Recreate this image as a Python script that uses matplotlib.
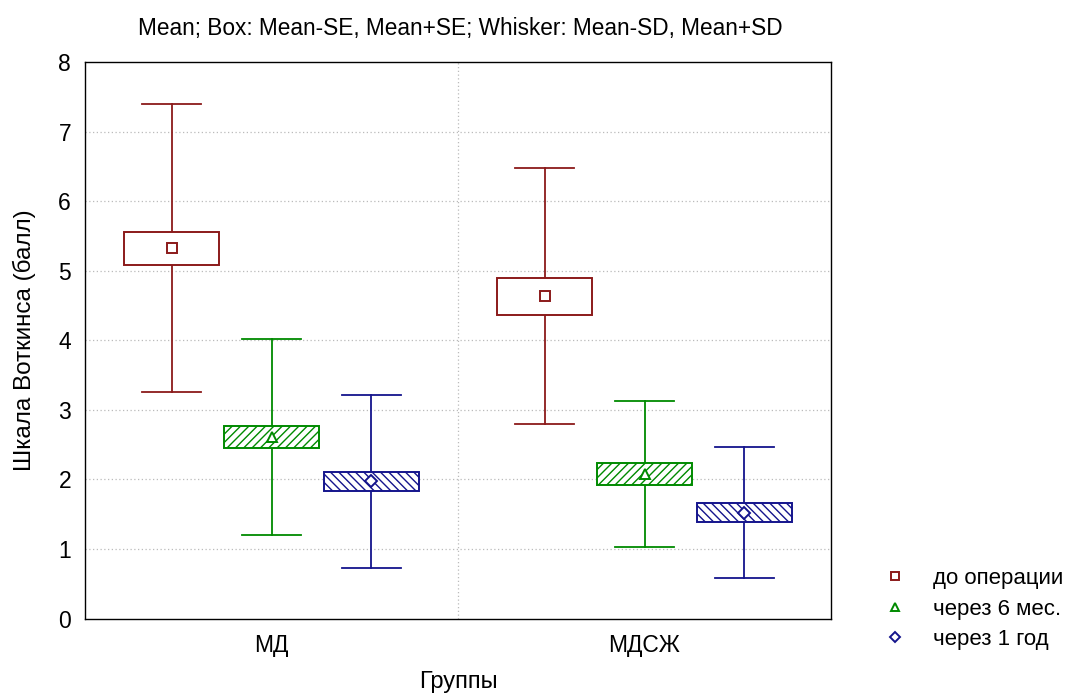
import matplotlib
matplotlib.use("Agg")
import matplotlib.pyplot as plt
from matplotlib.lines import Line2D
import numpy as np

plt.rcParams['font.family'] = ['Liberation Sans', 'DejaVu Sans']
plt.rcParams['hatch.linewidth'] = 1.0

groups = ['МД', 'МДСЖ']
series = ['до операции', 'через 6 мес.', 'через 1 год']
means = {'до операции': [5.32, 4.63], 'через 6 мес.': [2.61, 2.08], 'через 1 год': [1.97, 1.52]}
se = {'до операции': [0.235, 0.27], 'через 6 мес.': [0.155, 0.155], 'через 1 год': [0.13, 0.135]}
sd = {'до операции': [2.07, 1.84], 'через 6 мес.': [1.41, 1.05], 'через 1 год': [1.24, 0.94]}

colors = {'до операции': '#8B1A1A', 'через 6 мес.': '#008A00', 'через 1 год': '#14148C'}
hatches = {'до операции': None, 'через 6 мес.': '////', 'через 1 год': '\\\\\\\\'}
markers = {'до операции': 's', 'через 6 мес.': '^', 'через 1 год': 'D'}
msizes = {'до операции': 7.5, 'через 6 мес.': 7, 'через 1 год': 6.5}

fig = plt.figure(figsize=(10.7, 6.93), dpi=100)
ax = fig.add_axes([85/1070, 1-618.5/693, (831-85)/1070, (618.5-62)/693])

offsets = [-0.268, 0.0, 0.268]
box_w = 0.254
cap_w = 0.16
x = np.arange(len(groups))

for s, off in zip(series, offsets):
    c = colors[s]
    for i in range(len(groups)):
        xc = x[i] + off
        m, e, d = means[s][i], se[s][i], sd[s][i]
        ax.plot([xc, xc], [m + e, m + d], color=c, lw=1.3, zorder=2)
        ax.plot([xc, xc], [m - d, m - e], color=c, lw=1.3, zorder=2)
        ax.plot([xc - cap_w/2, xc + cap_w/2], [m + d, m + d], color=c, lw=1.3, zorder=2)
        ax.plot([xc - cap_w/2, xc + cap_w/2], [m - d, m - d], color=c, lw=1.3, zorder=2)
        rect = plt.Rectangle((xc - box_w/2, m - e), box_w, 2*e, facecolor='white',
                             edgecolor=c, hatch=hatches[s], lw=1.4, zorder=3)
        ax.add_patch(rect)
        ax.plot([xc], [m], marker=markers[s], ms=msizes[s], mfc='white', mec=c, mew=1.4,
                ls='none', zorder=4)

ax.set_xlim(-0.5, 1.5)
ax.set_ylim(0, 8)
ax.set_yticks(range(0, 9))
ax.set_xticks(x)
ax.set_xticklabels(groups)
ax.tick_params(axis='both', labelsize=16.5, length=0)
ax.tick_params(axis='y', pad=10)
ax.tick_params(axis='x', pad=11)
for yv in range(1, 8):
    ax.axhline(yv, color='#BBBBBB', lw=0.9, ls=(0, (1, 2)), zorder=1)
ax.axvline(0.5, color='#BBBBBB', lw=0.9, ls=(0, (1, 2)), zorder=1)
for sp in ax.spines.values():
    sp.set_linewidth(1.0)

ax.set_ylabel('Шкала Воткинса (балл)', fontsize=17.5, labelpad=16)
ax.set_xlabel('Группы', fontsize=17, labelpad=10)
fig.text(460/1070, 1-28/693, 'Mean; Box: Mean-SE, Mean+SE; Whisker: Mean-SD, Mean+SD',
         ha='center', va='center', fontsize=16.3)

handles = [Line2D([], [], marker=markers[s], ms=msizes[s]-1.5, mfc='white', mec=colors[s], mew=1.4,
                  ls='none') for s in series]
fig.legend(handles, series, loc='center left', bbox_to_anchor=(884/1070, 1-609/693),
           frameon=False, fontsize=16, handlelength=1.0, handletextpad=1.2,
           labelspacing=0.42, borderpad=0, borderaxespad=0)

fig.savefig('out.png', dpi=100)
